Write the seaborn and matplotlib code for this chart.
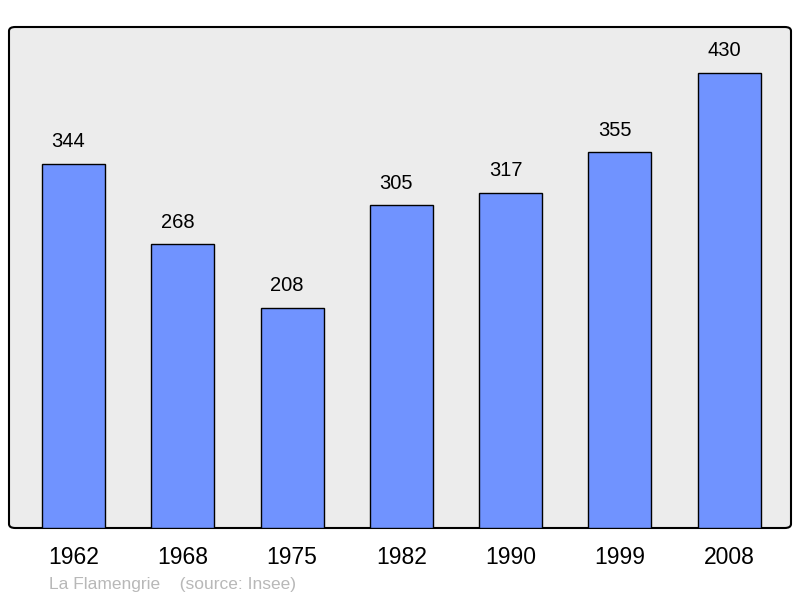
import pandas as pd
import seaborn as sns
import matplotlib.pyplot as plt
from matplotlib.patches import FancyBboxPatch
from matplotlib.transforms import ScaledTranslation

# Population data
years = ["1962", "1968", "1975", "1982", "1990", "1999", "2008"]
population = [344, 268, 208, 305, 317, 355, 430]
commune = "La Flamengrie"
source = "(source: Insee)"

df = pd.DataFrame({"year": years, "population": population})

sns.set_theme(style="white")
plt.rcParams["font.family"] = ["Liberation Sans", "DejaVu Sans"]

fig = plt.figure(figsize=(8, 5.98), dpi=100)
ax = fig.add_axes([9 / 800, 1 - 528 / 598, 782 / 800, 501 / 598])

# Rounded grey frame
ax.patch.set_visible(False)
for s in ax.spines.values():
    s.set_visible(False)
frame = FancyBboxPatch((0, 0), 1, 1, boxstyle="round,pad=0,rounding_size=0.008",
                       transform=ax.transAxes, facecolor="#ececec", edgecolor="black",
                       linewidth=1.5, zorder=0, clip_on=False)
ax.add_patch(frame)

sns.barplot(data=df, x="year", y="population", color="#7093ff", saturation=1,
            width=0.576, edgecolor="black", linewidth=1.0, ax=ax, zorder=2)

# value labels, nudged slightly left like the original
shift = ax.transData + ScaledTranslation(-0.05, 0, fig.dpi_scale_trans)
for i, v in enumerate(population):
    ax.text(i, v + 12, str(v), ha="center", va="bottom", fontsize=14.5,
            color="black", transform=shift)

ax.set_xlim(-0.59, 6.565)
ax.set_ylim(0, 473.5)
ax.set_yticks([])
ax.set_xlabel("")
ax.set_ylabel("")
ax.tick_params(axis="x", length=0, labelsize=16.5, pad=13, colors="black")

fig.text(49 / 800, 1 - 584 / 598, commune + "    " + source, fontsize=12.5,
         color="#b8b8b8", ha="left", va="center")

fig.savefig("out.png", dpi=100)
